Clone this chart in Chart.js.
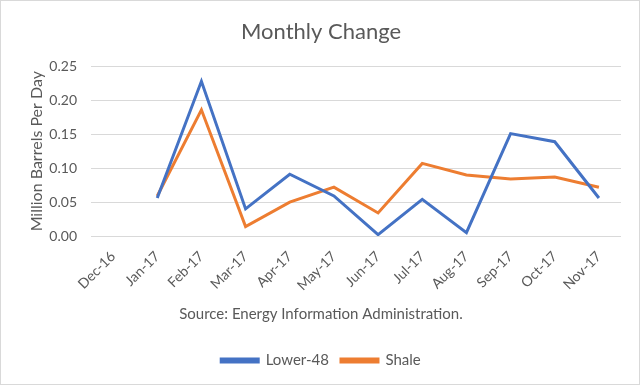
<!DOCTYPE html>
<html><head><meta charset="utf-8">
<script src="https://cdn.jsdelivr.net/npm/chart.js@4"></script>
<style>
html,body{margin:0;padding:0;background:#fff;}
#wrap{position:absolute;left:0;top:0;width:638px;height:383px;border:1px solid #d9d9d9;background:#fff;}
</style></head><body>
<div id="wrap"><canvas id="c" width="638" height="383"></canvas></div>
<script>
const categories = ["Dec-16","Jan-17","Feb-17","Mar-17","Apr-17","May-17","Jun-17","Jul-17","Aug-17","Sep-17","Oct-17","Nov-17"];
const lower48 = [null,0.056,0.228,0.040,0.091,0.059,0.002,0.054,0.005,0.151,0.139,0.056];
const shale = [null,0.059,0.186,0.014,0.050,0.072,0.034,0.107,0.090,0.084,0.087,0.072];
const yTicks = [0,0.05,0.10,0.15,0.20,0.25];
const txt = '#595959';
const font = 'Lato, "Open Sans", sans-serif';
new Chart(document.getElementById('c'), {
  type:'line',
  data:{labels:categories, datasets:[
    {label:'Lower-48', data:lower48, borderColor:'#4472C4', backgroundColor:'#4472C4', borderWidth:3, pointRadius:0, tension:0, spanGaps:false},
    {label:'Shale', data:shale, borderColor:'#ED7D31', backgroundColor:'#ED7D31', borderWidth:3, pointRadius:0, tension:0}
  ]},
  options:{
    responsive:false, animation:false,
    layout:{padding:{left:20,right:18,top:4,bottom:6}},
    plugins:{
      title:{display:true,text:'Monthly Change',color:txt,font:{family:font,size:22,weight:'normal'},padding:{top:14,bottom:21}},
      subtitle:{display:true,position:'bottom',text:'Source: Energy Information Administration.',color:txt,font:{family:font,size:15},padding:{top:7,bottom:18}},
      legend:{position:'bottom',weight:3000,labels:{color:txt,font:{family:font,size:15},boxWidth:37,boxHeight:3,padding:12}},
      tooltip:{enabled:false}
    },
    scales:{
      x:{offset:true,grid:{display:false},border:{display:false},
        ticks:{color:txt,font:{family:font,size:14},maxRotation:45,minRotation:45,padding:4}},
      y:{min:0,max:0.25,afterBuildTicks:(s)=>{s.ticks=yTicks.map(v=>({value:v}));},
        afterFit:(s)=>{s.width=70;},
        grid:{color:'#d9d9d9',drawTicks:false},border:{display:false},
        ticks:{color:txt,font:{family:font,size:14},padding:14,callback:v=>Number(v).toFixed(2)},
        title:{display:true,text:'Million Barrels Per Day',color:txt,font:{family:font,size:16},padding:{top:6,bottom:8}}}
    }
  }
});
</script></body></html>
